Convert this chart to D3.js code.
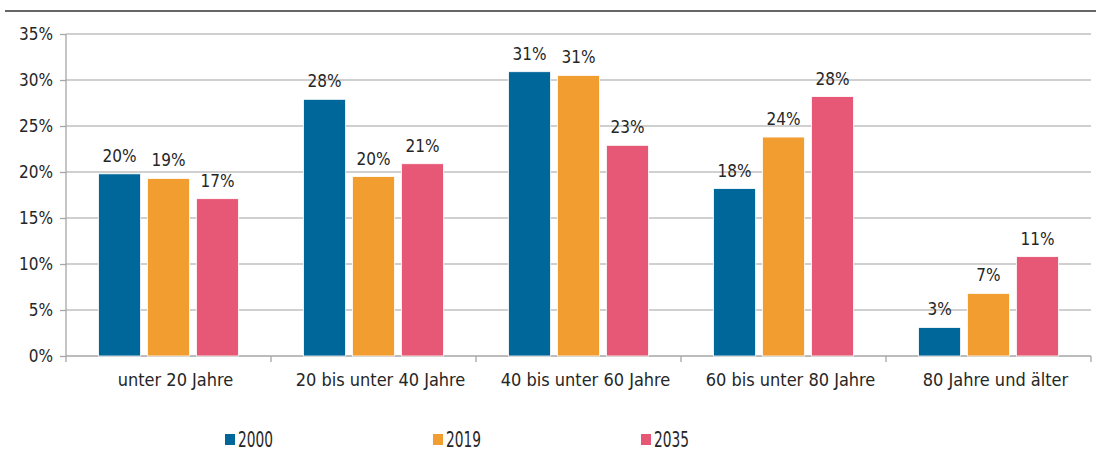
<!DOCTYPE html>
<html>
<head>
<meta charset="utf-8">
<script src="https://cdn.jsdelivr.net/npm/d3@7"></script>
<style>
body { margin:0; background:#fff; }
svg text { font-family: "DejaVu Sans Condensed", "Liberation Sans Narrow", "Open Sans", sans-serif; font-stretch: condensed; fill:#262626; }
</style>
</head>
<body>
<div id="chart"></div>
<script>
// age groups and shares per year
var categories = ["unter 20 Jahre", "20 bis unter 40 Jahre", "40 bis unter 60 Jahre", "60 bis unter 80 Jahre", "80 Jahre und älter"];
var years = ["2000", "2019", "2035"];
var v2000 = [19.8, 27.9, 30.9, 18.2, 3.1];
var v2019 = [19.3, 19.5, 30.5, 23.8, 6.8];
var v2035 = [17.1, 20.9, 22.9, 28.2, 10.8];
var labels2000 = ["20%", "28%", "31%", "18%", "3%"];
var labels2019 = ["19%", "20%", "31%", "24%", "7%"];
var labels2035 = ["17%", "21%", "23%", "28%", "11%"];
var yTicks = [0, 5, 10, 15, 20, 25, 30, 35];
var colors = ["#00679a", "#f29d2f", "#e75876"];

var W = 1096, H = 453;
var margin = {top:34, right:5, bottom:97, left:66};
var width = 1091 - margin.left;
var height = 356 - margin.top;

var svg = d3.select("#chart").append("svg")
    .attr("width", W)
    .attr("height", H);

// top rule
svg.append("line")
    .attr("x1", 5).attr("x2", W)
    .attr("y1", 11).attr("y2", 11)
    .attr("stroke", "#333").attr("stroke-width", 1.5);

var g = svg.append("g")
    .attr("transform", "translate(" + margin.left + "," + margin.top + ")");

var x = d3.scaleBand().domain(categories).range([0, width]);
var x1 = d3.scaleBand().domain(years).range([32.5, x.bandwidth() - 32.5]).paddingInner(0.14);
var y = d3.scaleLinear().domain([0, 35]).range([height, 0]);

// gridlines
g.selectAll(".grid")
    .data(yTicks.slice(1))
    .enter().append("line")
    .attr("x1", 0).attr("x2", width)
    .attr("y1", function (d) { return y(d); })
    .attr("y2", function (d) { return y(d); })
    .attr("stroke", "#c0c0c0").attr("stroke-width", 1.3);

// y axis
var yAxis = g.append("g")
    .call(d3.axisLeft(y).tickValues(yTicks).tickSize(6).tickPadding(7).tickFormat(function (d) { return d + "%"; }));
yAxis.selectAll("path, line").attr("stroke", "#a6a6a6").attr("stroke-width", 1.3);
yAxis.select(".domain").attr("d", "M0," + height + "V0");
yAxis.selectAll("text").style("font-size", "17px").attr("dy", "0.35em");

// x axis
var xAxis = g.append("g")
    .attr("transform", "translate(0," + height + ")")
    .call(d3.axisBottom(x).tickSize(0).tickPadding(0));
xAxis.select(".domain").attr("stroke", "#a6a6a6").attr("stroke-width", 1.3).attr("d", "M0,0H" + width);
xAxis.selectAll("text").style("font-size", "18px").attr("y", 30).attr("dy", 0).attr("dx", 7);
xAxis.selectAll(".sep")
    .data(d3.range(categories.length + 1))
    .enter().append("line")
    .attr("x1", function (i) { return i * x.bandwidth(); })
    .attr("x2", function (i) { return i * x.bandwidth(); })
    .attr("y1", 0).attr("y2", 6)
    .attr("stroke", "#a6a6a6").attr("stroke-width", 1.3);

var series = [
  {year: "2000", values: v2000, labels: labels2000, color: colors[0]},
  {year: "2019", values: v2019, labels: labels2019, color: colors[1]},
  {year: "2035", values: v2035, labels: labels2035, color: colors[2]}
];

series.forEach(function (s) {
  var sg = g.append("g");
  sg.selectAll("rect")
    .data(s.values)
    .enter().append("rect")
    .attr("x", function (d, i) { return x(categories[i]) + x1(s.year); })
    .attr("y", function (d) { return y(d); })
    .attr("width", x1.bandwidth())
    .attr("height", function (d) { return height - y(d); })
    .attr("fill", s.color)
    .attr("stroke", "#fff").attr("stroke-width", 0.8);
  sg.selectAll("text")
    .data(s.values)
    .enter().append("text")
    .attr("x", function (d, i) { return x(categories[i]) + x1(s.year) + x1.bandwidth() / 2; })
    .attr("y", function (d) { return y(d) - 12; })
    .attr("text-anchor", "middle")
    .style("font-size", "17px")
    .text(function (d, i) { return s.labels[i]; });
});

// legend
var legendX = [225, 433, 641];
var legend = svg.append("g");
series.forEach(function (s, i) {
  legend.append("rect")
    .attr("x", legendX[i]).attr("y", 434)
    .attr("width", 10).attr("height", 11)
    .attr("fill", s.color);
  legend.append("text")
    .attr("x", legendX[i] + 13).attr("y", 447)
    .style("font-size", "21px")
    .attr("textLength", 35)
    .attr("lengthAdjust", "spacingAndGlyphs")
    .text(s.year);
});
</script>
</body>
</html>
